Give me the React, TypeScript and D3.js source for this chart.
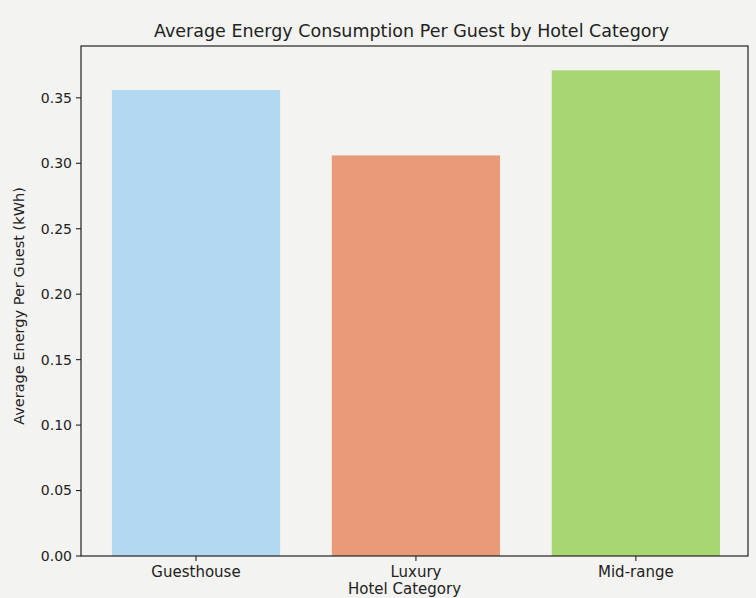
import React from "react";
import * as d3 from "d3";

const categories = ["Guesthouse", "Luxury", "Mid-range"];
const values = [0.356, 0.306, 0.371];
const colors = ["#b3d9f2", "#e99a78", "#a8d672"];
const yTicks = [0, 0.05, 0.1, 0.15, 0.2, 0.25, 0.3, 0.35];

const W = 756, H = 598;
const M = { left: 81, top: 46, right: 748, bottom: 556 };

export default function App() {
  const x = d3.scaleLinear().domain([-0.523, 2.51]).range([M.left, M.right]);
  const y = d3.scaleLinear().domain([0, 0.3896]).range([M.bottom, M.top]);
  const bw = x(0.765) - x(0);
  const font = "DejaVu Sans, sans-serif";
  return (
    <svg width={W} height={H} style={{ position: "absolute", left: 0, top: 0, background: "#f3f3f1" }}>
      <rect x={0} y={0} width={W} height={H} fill="#f3f3f1" />
      {categories.map((c, i) => (
        <rect key={c} x={x(i) - bw / 2} y={y(values[i])} width={bw} height={y(0) - y(values[i])} fill={colors[i]} />
      ))}
      <rect x={M.left} y={M.top} width={M.right - M.left} height={M.bottom - M.top} fill="none" stroke="#222" strokeWidth={1.2} />
      {yTicks.map((t) => (
        <g key={t}>
          <line x1={M.left - 5} x2={M.left} y1={y(t)} y2={y(t)} stroke="#222" strokeWidth={1.1} />
          <text x={M.left - 9} y={y(t)} dy="0.35em" textAnchor="end" fontFamily={font} fontSize={14} fill="#222">
            {t.toFixed(2)}
          </text>
        </g>
      ))}
      {categories.map((c, i) => (
        <g key={c}>
          <line x1={x(i)} x2={x(i)} y1={M.bottom} y2={M.bottom + 5} stroke="#222" strokeWidth={1.1} />
          <text x={x(i)} y={M.bottom + 21} textAnchor="middle" fontFamily={font} fontSize={15} fill="#222">
            {c}
          </text>
        </g>
      ))}
      <text x={(M.left + M.right) / 2 - 10} y={M.bottom + 38} textAnchor="middle" fontFamily={font} fontSize={15} fill="#222">
        Hotel Category
      </text>
      <text transform={`translate(24, ${(M.top + M.bottom) / 2 + 5}) rotate(-90)`} textAnchor="middle" fontFamily={font} fontSize={14.5} fill="#222">
        Average Energy Per Guest (kWh)
      </text>
      <text x={(M.left + M.right) / 2 - 3} y={M.top - 9} textAnchor="middle" fontFamily={font} fontSize={17.5} fill="#222">
        Average Energy Consumption Per Guest by Hotel Category
      </text>
    </svg>
  );
}
